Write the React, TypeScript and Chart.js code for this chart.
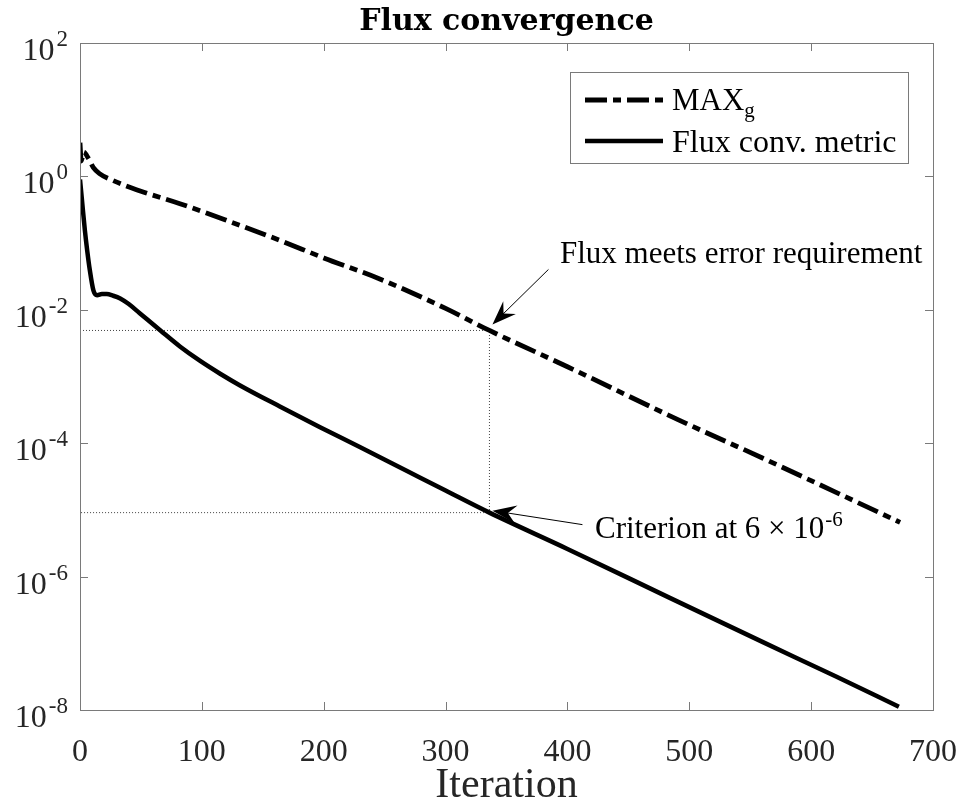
import React, { useEffect, useRef } from 'react';
import { Chart, registerables } from 'chart.js';

Chart.register(...registerables);

// ---- data ----
const maxGIter = [0, 1, 3, 7, 11, 16, 27, 50, 82, 123, 164, 200, 246, 300, 336, 400, 492, 560, 620, 673];
const maxGValue = [3.2, 1.7, 2.3, 1.85, 1.35, 1.1, 0.87, 0.6, 0.39, 0.21, 0.11, 0.06, 0.029, 0.0105, 0.0049, 0.0014, 2.2e-4, 6.0e-5, 1.85e-5, 6.5e-6];

const fluxIter = [0, 1, 2, 4, 6, 8, 11, 14, 18, 22, 27, 33, 40, 49, 66, 82, 98, 115, 131, 164, 197, 230, 270, 300, 336, 400, 484, 560, 620, 672];
const fluxValue = [0.9, 0.58, 0.37, 0.155, 0.075, 0.04, 0.0195, 0.0165, 0.0172, 0.0172, 0.0163, 0.0148, 0.0122, 0.0089, 0.0049, 0.00282, 0.00174, 0.0011, 7.41e-4, 3.55e-4, 1.74e-4, 8.7e-5, 3.7e-5, 1.95e-5, 9.1e-6, 2.6e-6, 4.8e-7, 1.05e-7, 3.2e-8, 1.12e-8];

const guideIter = [0, 336, 336, 0];
const guideValue = [4.9e-3, 4.9e-3, 9.1e-6, 9.1e-6];

const xTicks = [0, 100, 200, 300, 400, 500, 600, 700];
const yExponents = [-8, -6, -4, -2, 0, 2];

const seriesLabels = ['MAX', 'Flux conv. metric'];
const titleText = 'Flux convergence';
const xTitle = 'Iteration';
const note1 = 'Flux meets error requirement';
const note2Main = 'Criterion at 6 \u00d7 10';
const note2Sup = '-6';
const arrow1Iter = 336;
const arrow1Value = 4.9e-3;
const arrow2Iter = 336;
const arrow2Value = 9.1e-6;

const FONT = "'Liberation Serif', 'DejaVu Serif', serif";
const TITLE_FONT = "'DejaVu Serif', 'Liberation Serif', serif";
const AXIS_GRAY = '#7a7a7a';
const DASH = [22, 6, 8, 6];

function toPoints(xs: number[], ys: number[]) {
  return xs.map((x, i) => ({ x, y: ys[i] }));
}

function drawArrow(ctx: CanvasRenderingContext2D, x0: number, y0: number, x1: number, y1: number) {
  const ang = Math.atan2(y1 - y0, x1 - x0);
  const len = 24;
  const half = 9;
  ctx.save();
  ctx.strokeStyle = '#000';
  ctx.fillStyle = '#000';
  ctx.lineWidth = 1;
  ctx.beginPath();
  ctx.moveTo(x0, y0);
  ctx.lineTo(x1 - Math.cos(ang) * len * 0.6, y1 - Math.sin(ang) * len * 0.6);
  ctx.stroke();
  const bx = x1 - Math.cos(ang) * len;
  const by = y1 - Math.sin(ang) * len;
  const nx = -Math.sin(ang);
  const ny = Math.cos(ang);
  const ix = x1 - Math.cos(ang) * len * 0.65;
  const iy = y1 - Math.sin(ang) * len * 0.65;
  ctx.beginPath();
  ctx.moveTo(x1, y1);
  ctx.lineTo(bx + nx * half, by + ny * half);
  ctx.lineTo(ix, iy);
  ctx.lineTo(bx - nx * half, by - ny * half);
  ctx.closePath();
  ctx.fill();
  ctx.restore();
}

const decorPlugin = {
  id: 'decor',
  afterDraw(chart: any) {
    const { ctx, chartArea: a, scales } = chart;
    const xs = scales.x;
    const ys = scales.y;
    ctx.save();
    // title, centred over the plot area
    ctx.fillStyle = '#000';
    ctx.font = `bold 30px ${TITLE_FONT}`;
    ctx.textAlign = 'center';
    ctx.textBaseline = 'alphabetic';
    ctx.fillText(titleText, (a.left + a.right) / 2, 30);
    ctx.textAlign = 'left';

    // box
    ctx.strokeStyle = AXIS_GRAY;
    ctx.lineWidth = 1;
    ctx.strokeRect(Math.round(a.left) + 0.5, Math.round(a.top) + 0.5, Math.round(a.right - a.left), Math.round(a.bottom - a.top));
    // inward ticks
    const tl = 8;
    ctx.beginPath();
    xTicks.forEach((v) => {
      const px = Math.round(xs.getPixelForValue(v)) + 0.5;
      ctx.moveTo(px, a.bottom);
      ctx.lineTo(px, a.bottom - tl);
      ctx.moveTo(px, a.top);
      ctx.lineTo(px, a.top + tl);
    });
    yExponents.forEach((e) => {
      const py = Math.round(ys.getPixelForValue(Math.pow(10, e))) + 0.5;
      ctx.moveTo(a.left, py);
      ctx.lineTo(a.left + tl, py);
      ctx.moveTo(a.right, py);
      ctx.lineTo(a.right - tl, py);
    });
    ctx.stroke();

    // y tick labels 10^e
    ctx.fillStyle = '#262626';
    yExponents.forEach((e) => {
      const py = ys.getPixelForValue(Math.pow(10, e));
      const sup = String(e);
      ctx.font = `23px ${FONT}`;
      const w2 = ctx.measureText(sup).width;
      ctx.font = `32px ${FONT}`;
      const w1 = ctx.measureText('10').width;
      const right = a.left - 12;
      ctx.fillText('10', right - w2 - w1 - 2, py + 17);
      ctx.font = `23px ${FONT}`;
      ctx.fillText(sup, right - w2, py + 3);
    });

    // legend
    const ds = chart.data.datasets;
    const lx = 570, ly = 72, lw = 338, lh = 91;
    ctx.fillStyle = '#fff';
    ctx.fillRect(lx, ly, lw, lh);
    ctx.strokeStyle = AXIS_GRAY;
    ctx.lineWidth = 1;
    ctx.strokeRect(lx + 0.5, ly + 0.5, lw, lh);
    const rows = [ly + 28, ly + 69];
    [0, 1].forEach((i) => {
      const d = ds[i];
      ctx.save();
      ctx.strokeStyle = d.borderColor;
      ctx.lineWidth = d.borderWidth;
      ctx.setLineDash(d.borderDash || []);
      ctx.beginPath();
      ctx.moveTo(lx + 15, rows[i]);
      ctx.lineTo(lx + 93, rows[i]);
      ctx.stroke();
      ctx.restore();
    });
    ctx.fillStyle = '#000';
    ctx.font = `31px ${FONT}`;
    ctx.fillText(seriesLabels[0], lx + 102, rows[0] + 10);
    const mw = ctx.measureText(seriesLabels[0]).width;
    ctx.font = `21px ${FONT}`;
    ctx.fillText('g', lx + 102 + mw, rows[0] + 17);
    ctx.font = `32px ${FONT}`;
    ctx.fillText(seriesLabels[1], lx + 102, rows[1] + 11);

    // annotations
    const t1x = xs.getPixelForValue(arrow1Iter) + 3;
    const t1y = ys.getPixelForValue(arrow1Value) - 6;
    drawArrow(ctx, t1x + 56, t1y - 55, t1x, t1y);
    ctx.fillStyle = '#000';
    ctx.font = `31px ${FONT}`;
    ctx.fillText(note1, 560, 263);

    const t2x = xs.getPixelForValue(arrow2Iter) + 3;
    const t2y = ys.getPixelForValue(arrow2Value) - 2;
    drawArrow(ctx, t2x + 90, t2y + 14, t2x, t2y);
    ctx.font = `31px ${FONT}`;
    ctx.fillText(note2Main, 595, 538);
    const nw = ctx.measureText(note2Main).width;
    ctx.font = `21px ${FONT}`;
    ctx.fillText(note2Sup, 595 + nw + 1, 526);
    ctx.restore();
  },
};

export default function App() {
  const ref = useRef<HTMLCanvasElement | null>(null);
  useEffect(() => {
    document.body.style.margin = '0';
    const canvas = ref.current;
    if (!canvas) return;
    const chart = new Chart(canvas, {
      type: 'line',
      data: {
        datasets: [
          {
            label: seriesLabels[0],
            data: toPoints(maxGIter, maxGValue),
            borderColor: '#000',
            borderWidth: 4.8,
            borderDash: DASH,
            pointRadius: 0,
            cubicInterpolationMode: 'monotone',
            fill: false,
            order: 1,
          },
          {
            label: seriesLabels[1],
            data: toPoints(fluxIter, fluxValue),
            borderColor: '#000',
            borderWidth: 4.5,
            pointRadius: 0,
            cubicInterpolationMode: 'monotone',
            fill: false,
            order: 1,
          },
          {
            label: 'guide',
            data: toPoints(guideIter, guideValue),
            borderColor: '#444',
            borderWidth: 1,
            borderDash: [1, 2],
            pointRadius: 0,
            tension: 0,
            fill: false,
            order: 3,
          },
        ],
      },
      options: {
        animation: false,
        responsive: false,
        devicePixelRatio: 1,
        layout: { padding: { left: 0, right: 32, top: 43, bottom: 0 } },
        plugins: {
          legend: { display: false },
          tooltip: { enabled: false },
          title: { display: false },
        },
        scales: {
          x: {
            type: 'linear',
            min: 0,
            max: 700,
            grid: { display: false },
            border: { display: false },
            afterBuildTicks: (s: any) => {
              s.ticks = xTicks.map((v) => ({ value: v }));
            },
            ticks: {
              color: '#262626',
              font: { family: FONT, size: 32, lineHeight: 1.2 },
              padding: 15,
              maxRotation: 0,
              autoSkip: false,
            },
            title: {
              display: true,
              text: xTitle,
              color: '#262626',
              font: { family: FONT, size: 42, lineHeight: 0.86 },
              padding: { top: 0, bottom: 0 },
            },
            afterFit: (s: any) => {
              s.height = 94;
              s.paddingLeft = 0;
              s.paddingRight = 0;
            },
          },
          y: {
            type: 'logarithmic',
            min: 1e-8,
            max: 1e2,
            grid: { display: false },
            border: { display: false },
            ticks: { display: false },
            afterBuildTicks: (s: any) => {
              s.ticks = yExponents.map((e) => ({ value: Math.pow(10, e) }));
            },
            afterFit: (s: any) => {
              s.width = 80;
              s.paddingTop = 0;
              s.paddingBottom = 0;
            },
          },
        },
      },
      plugins: [decorPlugin],
    } as any);
    return () => chart.destroy();
  }, []);
  return <canvas ref={ref} width={965} height={804} style={{ display: 'block' }} />;
}
